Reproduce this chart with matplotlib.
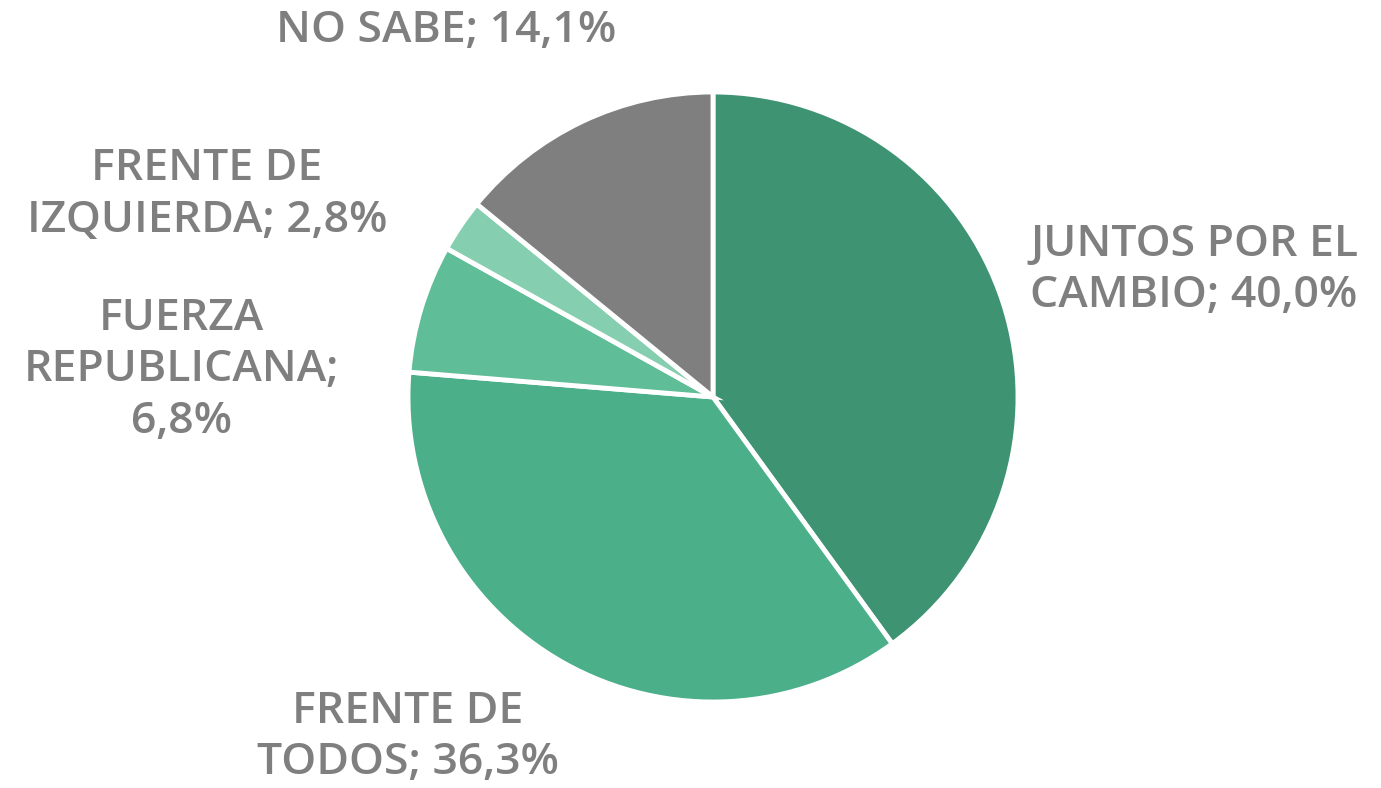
import matplotlib.pyplot as plt

labels = ['JUNTOS POR EL\nCAMBIO; 40,0%', 'FRENTE DE\nTODOS; 36,3%', 'FUERZA\nREPUBLICANA;\n6,8%',
          'FRENTE DE\nIZQUIERDA; 2,8%', 'NO SABE; 14,1%']
values = [40.0, 36.3, 6.8, 2.8, 14.1]
colors = ['#3e9373', '#4baf89', '#5fbd98', '#86ceb0', '#7f7f7f']

# label centres in pie units (radius = 1)
label_pos = [(1.577, 0.416), (-1.0, -1.115), (-1.744, 0.089), (-1.659, 0.664), (-0.875, 1.203)]

fig = plt.figure(figsize=(13.81, 7.88), dpi=100)
ax = fig.add_axes([0, 0, 1, 1])
ax.pie(values, colors=colors, startangle=90, counterclock=False, radius=1,
       wedgeprops=dict(edgecolor='white', linewidth=3.5))
for lab, (x, y) in zip(labels, label_pos):
    ax.text(x, y, lab, ha='center', va='center', fontsize=32, color='#7f7f7f',
            family='Open Sans', weight='semibold', linespacing=1.25)

ax.set_xlim(-713 / 305, (1381 - 713) / 305)
ax.set_ylim((397 - 788) / 305, 397 / 305)
ax.set_aspect('equal')
ax.axis('off')
fig.savefig('out.png', dpi=100)
